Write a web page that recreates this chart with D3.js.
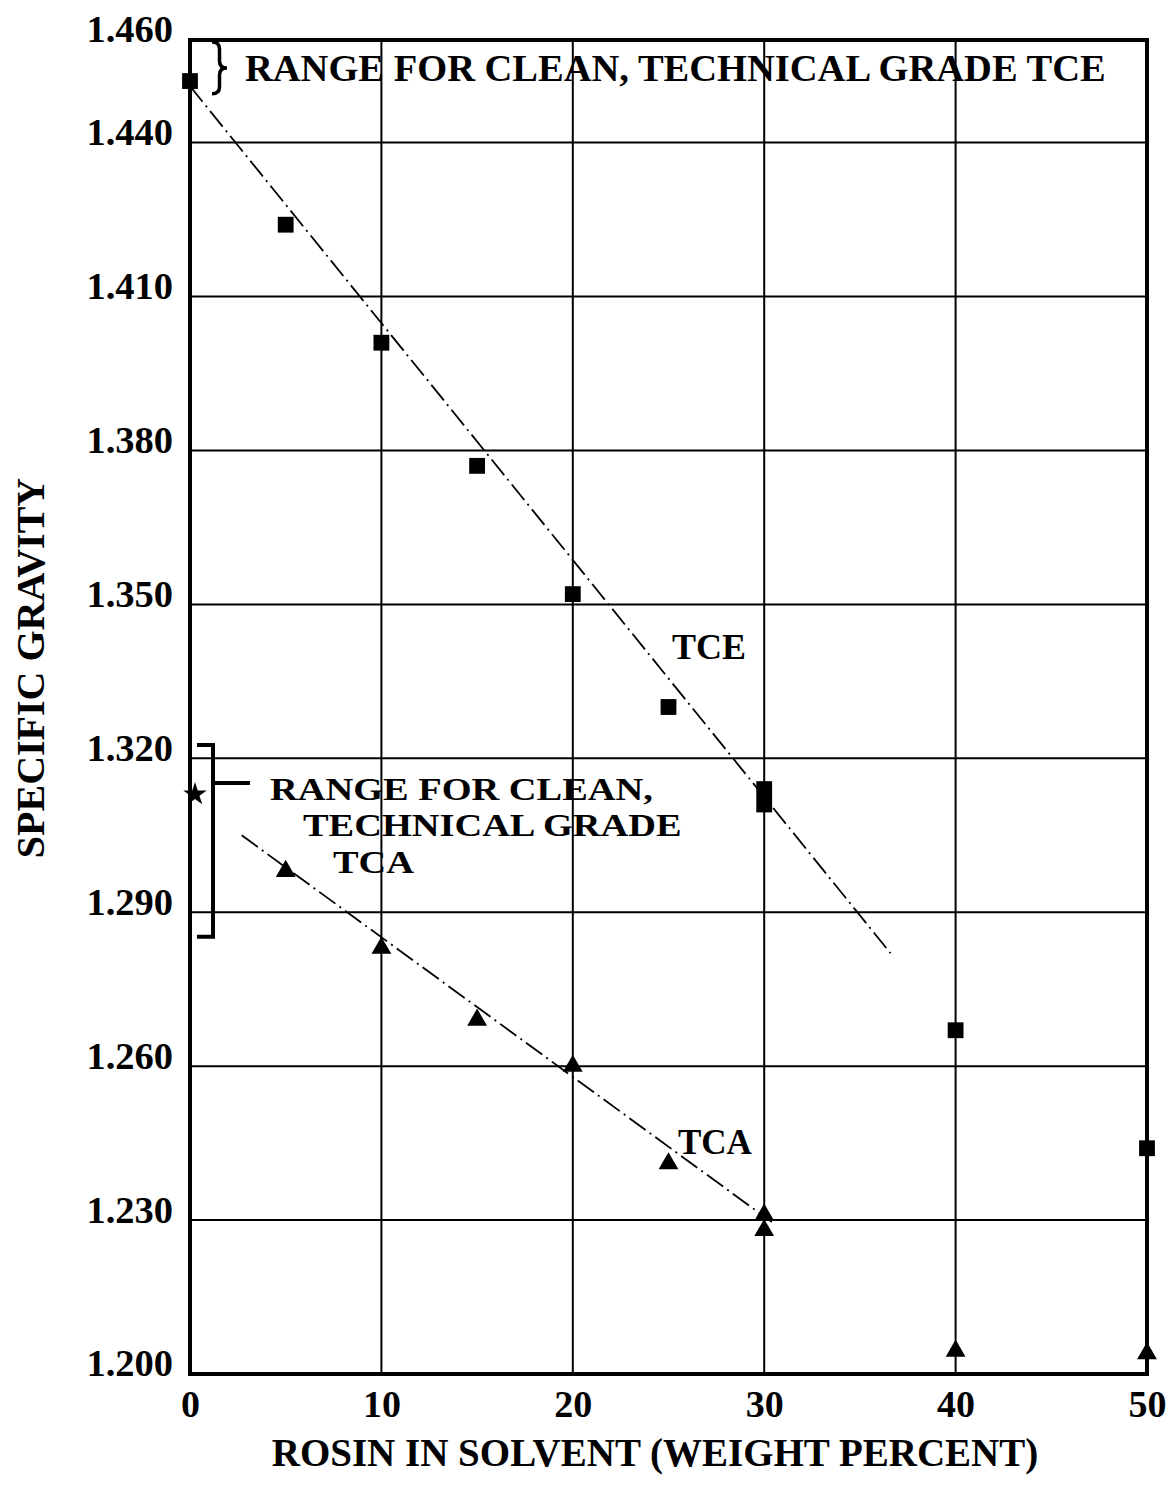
<!DOCTYPE html>
<html>
<head>
<meta charset="utf-8">
<script src="https://cdn.jsdelivr.net/npm/d3@7"></script>
<style>
  html, body { margin: 0; padding: 0; background: #fff; }
  svg text { font-family: "Liberation Serif", "Times New Roman", serif; font-weight: bold; fill: #000; }
</style>
</head>
<body>
<svg id="chart" width="1168" height="1491"></svg>
<script>
// Specific gravity of TCE and TCA solvents versus rosin content
const xTicks = [0, 10, 20, 30, 40, 50];
const yTicks = [1.200, 1.230, 1.260, 1.290, 1.320, 1.350, 1.380, 1.410, 1.440, 1.460];

const tceRosin   = [0, 5, 10, 15, 20, 25, 30, 30, 40, 50];
const tceGravity = [1.452, 1.424, 1.401, 1.377, 1.352, 1.330, 1.314, 1.311, 1.267, 1.244];

const tcaRosin   = [5, 10, 15, 20, 25, 30, 30, 40, 50];
const tcaGravity = [1.298, 1.283, 1.269, 1.260, 1.241, 1.231, 1.228, 1.2045, 1.204];

// Clean technical-grade TCA reference reading
const tcaCleanRosin = [0];
const tcaCleanGravity = [1.313];

// Fitted trend lines (end points)
const tceFitRosin = [0, 36.6];
const tceFitGravity = [1.451, 1.282];
const tcaFitRosin = [2.7, 30.4];
const tcaFitGravity = [1.305, 1.2296];

// Ranges for clean, technical grade solvent
const tceRange = [1.4495, 1.4596];
const tcaRange = [1.2852, 1.3226];
const tcaRangeArm = 1.3152;

const W = 1168, H = 1491;
const margin = { top: 40, right: 21, bottom: 117, left: 190 };

const svg = d3.select("#chart");
const x = d3.scaleLinear().domain([0, 50]).range([margin.left, W - margin.right]);
const y = d3.scaleLinear().domain([1.2, 1.46]).range([H - margin.bottom, margin.top]);

const zip = (a, b) => a.map((v, i) => [v, b[i]]);

// Grid
const grid = svg.append("g").attr("stroke", "#000").attr("stroke-width", 2);
grid.selectAll("line.h").data(yTicks.slice(1, -1)).join("line")
  .attr("class", "h")
  .attr("x1", x(0)).attr("x2", x(50))
  .attr("y1", d => y(d)).attr("y2", d => y(d));
grid.selectAll("line.v").data(xTicks.slice(1, -1)).join("line")
  .attr("class", "v")
  .attr("y1", y(1.2)).attr("y2", y(1.46))
  .attr("x1", d => x(d)).attr("x2", d => x(d));

// Frame
svg.append("rect")
  .attr("x", x(0)).attr("y", y(1.46))
  .attr("width", x(50) - x(0)).attr("height", y(1.2) - y(1.46))
  .attr("fill", "none").attr("stroke", "#000").attr("stroke-width", 4);

// Axes
const yAxis = svg.append("g")
  .attr("transform", `translate(${x(0)},0)`)
  .call(d3.axisLeft(y).tickValues(yTicks).tickFormat(d3.format(".3f")).tickSize(0).tickPadding(17));
yAxis.select(".domain").remove();
yAxis.selectAll("text")
  .attr("dy", "0.05em")
  .style("font-family", "Liberation Serif, serif")
  .style("font-weight", "bold")
  .style("font-size", "38.5px");

const xAxis = svg.append("g")
  .attr("transform", `translate(0,${y(1.2)})`)
  .call(d3.axisBottom(x).tickValues(xTicks).tickFormat(d3.format("d")).tickSize(0).tickPadding(16));
xAxis.select(".domain").remove();
xAxis.selectAll("text")
  .style("font-family", "Liberation Serif, serif")
  .style("font-weight", "bold")
  .style("font-size", "38px");

// Trend lines
const line = d3.line().x(d => x(d[0])).y(d => y(d[1]));
[zip(tceFitRosin, tceFitGravity), zip(tcaFitRosin, tcaFitGravity)].forEach(pts => {
  svg.append("path")
    .attr("d", line(pts))
    .attr("fill", "none")
    .attr("stroke", "#000")
    .attr("stroke-width", 1.8)
    .attr("stroke-dasharray", "20,5,2,5");
});

// Markers
svg.append("g").selectAll("path")
  .data(zip(tceRosin, tceGravity)).join("path")
  .attr("transform", d => `translate(${x(d[0])},${y(d[1])})`)
  .attr("d", d3.symbol(d3.symbolSquare, 250));

svg.append("g").selectAll("path")
  .data(zip(tcaRosin, tcaGravity)).join("path")
  .attr("transform", d => `translate(${x(d[0])},${y(d[1])})`)
  .attr("d", d3.symbol(d3.symbolTriangle, 170));

svg.append("g").selectAll("path")
  .data(zip(tcaCleanRosin, tcaCleanGravity)).join("path")
  .attr("transform", d => `translate(${x(d[0]) + 5},${y(d[1])})`)
  .attr("d", d3.symbol(d3.symbolStar, 170));

// Curly brace for the TCE range
const bx0 = x(0) + 22, bx1 = x(0) + 37;
const by0 = y(tceRange[1]), by1 = y(tceRange[0]);
const bym = (by0 + by1) / 2, bxm = (bx0 + bx1) / 2, r = 7;
svg.append("path")
  .attr("d", `M${bx0},${by0} Q${bxm},${by0} ${bxm},${by0 + r} L${bxm},${bym - r} Q${bxm},${bym} ${bx1},${bym}` +
             ` Q${bxm},${bym} ${bxm},${bym + r} L${bxm},${by1 - r} Q${bxm},${by1} ${bx0},${by1}`)
  .attr("fill", "none").attr("stroke", "#000").attr("stroke-width", 3.5);

svg.append("text")
  .attr("x", bx1 + 18).attr("y", bym + 13)
  .style("font-size", "38.5px")
  .text("RANGE FOR CLEAN, TECHNICAL GRADE TCE");

// Bracket for the TCA range
const kx = x(0) + 23, kx0 = x(0) + 7;
svg.append("path")
  .attr("d", `M${kx0},${y(tcaRange[1])} H${kx} V${y(tcaRange[0])} H${kx0}` +
             ` M${kx},${y(tcaRangeArm)} H${kx + 37}`)
  .attr("fill", "none").attr("stroke", "#000").attr("stroke-width", 4);

// Wide-set three-line note beside the bracket
const noteLines = [["RANGE FOR CLEAN,", 270, 800], ["TECHNICAL GRADE", 303, 836], ["TCA", 333, 873]];
const stretch = 1.2;
const tcaNote = svg.append("text")
  .attr("transform", `scale(${stretch},1)`)
  .style("font-size", "32px");
noteLines.forEach(([t, tx, ty]) => {
  tcaNote.append("tspan").attr("x", tx / stretch).attr("y", ty).text(t);
});

// Series labels
svg.append("text").attr("x", 672).attr("y", 659).style("font-size", "36px").text("TCE");
svg.append("text").attr("x", 678).attr("y", 1154).style("font-size", "35px").text("TCA");

// Axis titles
svg.append("text")
  .attr("x", 655).attr("y", 1466)
  .attr("text-anchor", "middle")
  .style("font-size", "39px")
  .text("ROSIN IN SOLVENT (WEIGHT PERCENT)");

svg.append("text")
  .attr("transform", `translate(44,668) rotate(-90)`)
  .attr("text-anchor", "middle")
  .style("font-size", "40px")
  .text("SPECIFIC GRAVITY");
</script>
</body>
</html>
